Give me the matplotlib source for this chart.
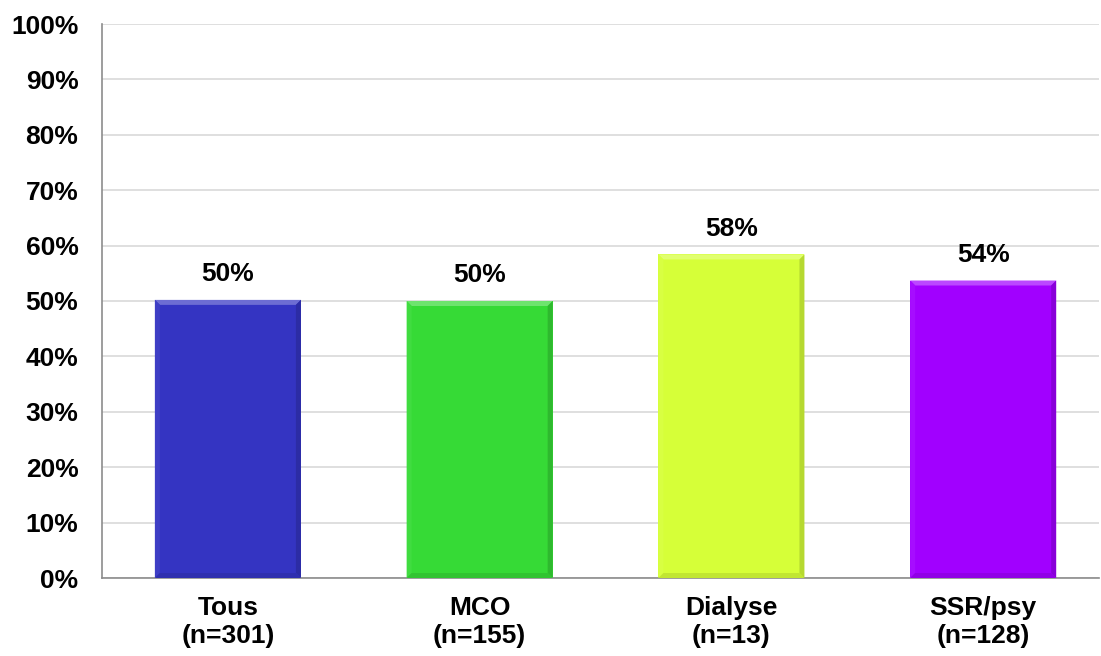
import matplotlib.pyplot as plt
from matplotlib.patches import Polygon
from matplotlib.colors import to_rgb
import numpy as np

categories = ["Tous\n(n=301)", "MCO\n(n=155)", "Dialyse\n(n=13)", "SSR/psy\n(n=128)"]
values = [50.2, 50.0, 58.4, 53.7]
colors = ["#3434C2", "#36DA36", "#D6FF38", "#A100FF"]

plt.rcParams["font.family"] = ["Liberation Sans", "DejaVu Sans"]
plt.rcParams["font.weight"] = "bold"


def shade(color, f):
    c = np.array(to_rgb(color))
    if f > 0:
        return tuple(c + (1 - c) * f)
    return tuple(c * (1 + f))


def bevel(ax, bar, color, px=5):
    # light top/left, dark right/bottom edges, sized in pixels
    x0 = bar.get_x()
    w = bar.get_width()
    h = bar.get_height()
    inv = ax.transData.inverted()
    p0 = inv.transform((0, 0))
    p1 = inv.transform((px, px))
    dx, dy = p1 - p0
    x1 = x0 + w
    faces = [
        ([(x0, h), (x1, h), (x1 - dx, h - dy), (x0 + dx, h - dy)], shade(color, 0.28)),
        ([(x0, 0), (x0, h), (x0 + dx, h - dy), (x0 + dx, dy)], shade(color, 0.05)),
        ([(x1, 0), (x1, h), (x1 - dx, h - dy), (x1 - dx, dy)], shade(color, -0.15)),
        ([(x0, 0), (x1, 0), (x1 - dx, dy), (x0 + dx, dy)], shade(color, -0.10)),
    ]
    for pts, c in faces:
        ax.add_patch(Polygon(pts, closed=True, facecolor=c, edgecolor="none", zorder=3))


fig = plt.figure(figsize=(11.01, 6.56), dpi=100)
ax = fig.add_axes([102 / 1101, 1 - 578 / 656, 997 / 1101, 554 / 656])

x = np.arange(len(categories))
bars = ax.bar(x, values, width=0.58, color=colors, zorder=2)

ax.set_ylim(0, 100)
ax.set_xlim(-0.5, 3.46)
ax.set_yticks(np.arange(0, 101, 10))
ax.set_yticklabels([f"{v}%" for v in range(0, 101, 10)], fontsize=19, fontweight="bold")
ax.set_xticks(x)
ax.set_xticklabels(categories, fontsize=19, fontweight="bold", linespacing=1.2)
ax.tick_params(axis="both", length=0)
ax.tick_params(axis="x", pad=13)
ax.tick_params(axis="y", pad=17)

ax.grid(axis="y", color="#D9D9D9", linewidth=1.2, zorder=0)
ax.set_axisbelow(True)
for s in ["top", "right"]:
    ax.spines[s].set_visible(False)
ax.spines["left"].set_color("#8C8C8C")
ax.spines["bottom"].set_color("#8C8C8C")
ax.spines["left"].set_linewidth(1.2)
ax.spines["bottom"].set_linewidth(1.2)

fig.canvas.draw()
for b, c, v in zip(bars, colors, values):
    bevel(ax, b, c)
    ax.annotate(f"{v:.0f}%", (b.get_x() + b.get_width() / 2, v),
                xytext=(0, 10), textcoords="offset points",
                ha="center", va="bottom", fontsize=19, fontweight="bold")

fig.savefig("out.png", dpi=100)
plt.close(fig)
